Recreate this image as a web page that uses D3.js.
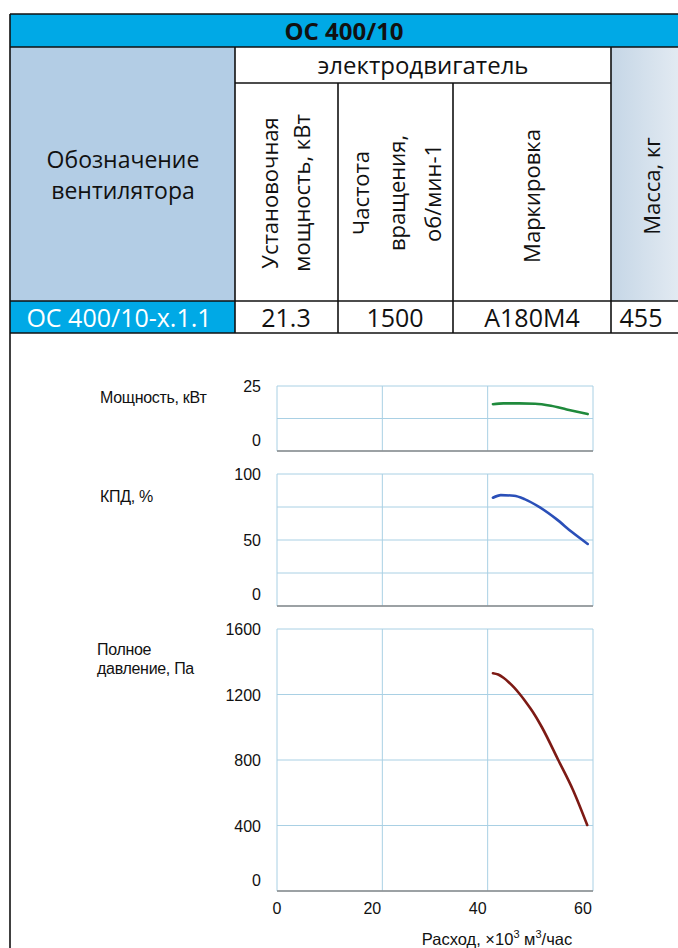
<!DOCTYPE html>
<html><head><meta charset="utf-8">
<script src="https://cdn.jsdelivr.net/npm/d3@7"></script>
<style>
html,body{margin:0;padding:0;background:#fff;}
svg{display:block;}
</style></head>
<body><svg id="c" width="678" height="948"></svg>
<script>
// ---------- data ----------
const tableTitle = "ОС 400/10";
const groupHeader = "электродвигатель";
const colHeaders = [["Установочная", "мощность, кВт"], ["Частота", "вращения,", "об/мин-1"], ["Маркировка"], ["Масса, кг"]];
const rowName = "ОС 400/10-x.1.1";
const rowValues = ["21.3", "1500", "A180M4", "455"];

const xTicks = [0, 20, 40, 60];
const powerTicks = [0, 25];
const powerGrid = [0, 12.5, 25];
const effTicks = [0, 50, 100];
const effGrid = [0, 25, 50, 75, 100];
const pressTicks = [0, 400, 800, 1200, 1600];

const powerFlow = [41, 43, 46, 49, 52, 55, 59];
const powerVals = [18.0, 18.3, 18.3, 18.2, 17.4, 16.0, 14.2];

const effFlow = [41, 42.5, 45, 47, 50, 53, 56, 59];
const effVals = [82, 84, 83.5, 81, 74.5, 66, 56, 47];

const pressFlow = [41, 42, 43, 44, 45, 46, 47, 48, 49, 50.3, 53.4, 56.2, 58.9];
const pressVals = [1330, 1322, 1302, 1275, 1243, 1206, 1165, 1120, 1072, 1000, 800, 617, 403];

// ---------- table ----------
const svg = d3.select("#c");
const tf = "'Open Sans', 'Noto Sans', sans-serif";
const cyan = "#00a9e6";
const L = 10;
svg.append("rect").attr("x", L).attr("y", 14).attr("width", 678 - L).attr("height", 33).attr("fill", cyan);
svg.append("text").attr("x", 344).attr("y", 40).attr("text-anchor", "middle").attr("font-family", tf)
  .attr("font-weight", "bold").attr("font-size", 24).attr("fill", "#111").text(tableTitle);
svg.append("rect").attr("x", L).attr("y", 47).attr("width", 225).attr("height", 254).attr("fill", "#b3cde5");
const grad = svg.append("defs").append("linearGradient").attr("id", "mg").attr("x1", 0).attr("x2", 1);
grad.append("stop").attr("offset", 0).attr("stop-color", "#c5d6e6");
grad.append("stop").attr("offset", 1).attr("stop-color", "#e2eaf2");
svg.append("rect").attr("x", 611).attr("y", 47).attr("width", 67).attr("height", 254).attr("fill", "url(#mg)");
svg.append("rect").attr("x", L).attr("y", 301).attr("width", 225).attr("height", 32).attr("fill", cyan);

const lines = [
  [L, 14, 678, 14], [L, 47, 678, 47], [235, 83, 611, 83], [L, 301, 678, 301], [L, 333, 678, 333],
  [L, 14, L, 948], [235, 47, 235, 333], [611, 47, 611, 333], [338, 83, 338, 333], [453, 83, 453, 333]
];
svg.append("g").selectAll("line").data(lines).join("line")
  .attr("x1", d => d[0]).attr("y1", d => d[1]).attr("x2", d => d[2]).attr("y2", d => d[3])
  .attr("stroke", "#111").attr("stroke-width", 1.6);

svg.append("text").attr("x", 423).attr("y", 74).attr("text-anchor", "middle").attr("font-family", tf)
  .attr("font-size", 24).attr("fill", "#111").text(groupHeader);
const nameLbl = svg.append("text").attr("x", 123).attr("text-anchor", "middle").attr("font-family", tf)
  .attr("font-size", 23).attr("fill", "#111");
nameLbl.append("tspan").attr("x", 123).attr("y", 168).text("Обозначение");
nameLbl.append("tspan").attr("x", 123).attr("y", 199).text("вентилятора");

function vtext(cx, cy, linesArr, lh) {
  const g = svg.append("g").attr("transform", `translate(${cx},${cy}) rotate(-90)`);
  const n = linesArr.length;
  linesArr.forEach((t, i) => {
    g.append("text").attr("x", 0).attr("y", (i - (n - 1) / 2) * lh + 8).attr("text-anchor", "middle")
      .attr("font-family", tf).attr("font-size", 22).attr("fill", "#111").text(t);
  });
}
vtext(286, 193, colHeaders[0], 32);
vtext(397, 193, colHeaders[1], 36);
vtext(532, 196, colHeaders[2], 32);
vtext(652, 186, colHeaders[3], 32);

svg.append("text").attr("x", 119).attr("y", 327).attr("text-anchor", "middle").attr("font-family", tf)
  .attr("font-size", 25).attr("fill", "#fff").text(rowName);
const valX = [286, 395, 532, 641];
svg.append("g").selectAll("text").data(rowValues).join("text")
  .attr("x", (d, i) => valX[i]).attr("y", 327).attr("text-anchor", "middle").attr("font-family", tf)
  .attr("font-size", 25).attr("fill", "#111").text(d => d);

// ---------- charts ----------
const cf = "'Liberation Sans', Arial, sans-serif";
const x = d3.scaleLinear().domain([0, 60]).range([277, 593]);
const gridCol = "#a9d0e4";

function panel(top, bottom, ymax, grid, ticks, flow, vals, color, minLabelShift) {
  const y = d3.scaleLinear().domain([0, ymax]).range([bottom, top]);
  const g = svg.append("g");
  g.append("g").selectAll("line").data(grid).join("line")
    .attr("x1", x(0)).attr("x2", x(60)).attr("y1", d => y(d)).attr("y2", d => y(d))
    .attr("stroke", gridCol).attr("stroke-width", 1);
  g.append("g").selectAll("line").data(xTicks).join("line")
    .attr("x1", d => x(d)).attr("x2", d => x(d)).attr("y1", top).attr("y2", bottom)
    .attr("stroke", gridCol).attr("stroke-width", 1);
  g.append("line").attr("x1", x(0)).attr("x2", x(60)).attr("y1", bottom).attr("y2", bottom)
    .attr("stroke", "#8a8a8a").attr("stroke-width", 1.5);
  g.append("g").selectAll("text").data(ticks).join("text")
    .attr("x", 261).attr("y", d => y(d) + (d === 0 ? minLabelShift : 0) + 6)
    .attr("text-anchor", "end").attr("font-family", cf).attr("font-size", 16).attr("fill", "#111")
    .text(d => d);
  const pts = flow.map((f, i) => [f, vals[i]]);
  g.append("path").datum(pts)
    .attr("d", d3.line().x(d => x(d[0])).y(d => y(d[1])).curve(d3.curveMonotoneX))
    .attr("fill", "none").attr("stroke", color).attr("stroke-width", 2.6).attr("stroke-linecap", "round");
  return y;
}
panel(386, 451, 25, powerGrid, powerTicks, powerFlow, powerVals, "#1f8a3c", -11);
panel(474, 606, 100, effGrid, effTicks, effFlow, effVals, "#2a4fb8", -12);
panel(629, 891, 1600, pressTicks, pressTicks, pressFlow, pressVals, "#7d1a14", -11);

svg.append("g").selectAll("text").data(xTicks).join("text")
  .attr("x", d => x(d) - (d === 0 ? 0 : 10)).attr("y", 914).attr("text-anchor", "middle")
  .attr("font-family", cf).attr("font-size", 16).attr("fill", "#111").text(d => d);

const lab = (t, xx, yy) => svg.append("text").attr("x", xx).attr("y", yy).attr("font-family", cf)
  .attr("font-size", 16).attr("letter-spacing", -0.3).attr("fill", "#111").text(t);
lab("Мощность, кВт", 100, 403);
lab("КПД, %", 100, 502);
lab("Полное", 97, 655);
lab("давление, Па", 97, 674);

const xl = svg.append("text").attr("x", 497).attr("y", 945).attr("text-anchor", "middle")
  .attr("font-family", cf).attr("font-size", 16.5).attr("fill", "#111");
xl.append("tspan").text("Расход, ×10");
xl.append("tspan").attr("dy", -7).attr("font-size", 11).text("3");
xl.append("tspan").attr("dy", 7).text(" м");
xl.append("tspan").attr("dy", -7).attr("font-size", 11).text("3");
xl.append("tspan").attr("dy", 7).text("/час");
</script></body></html>
